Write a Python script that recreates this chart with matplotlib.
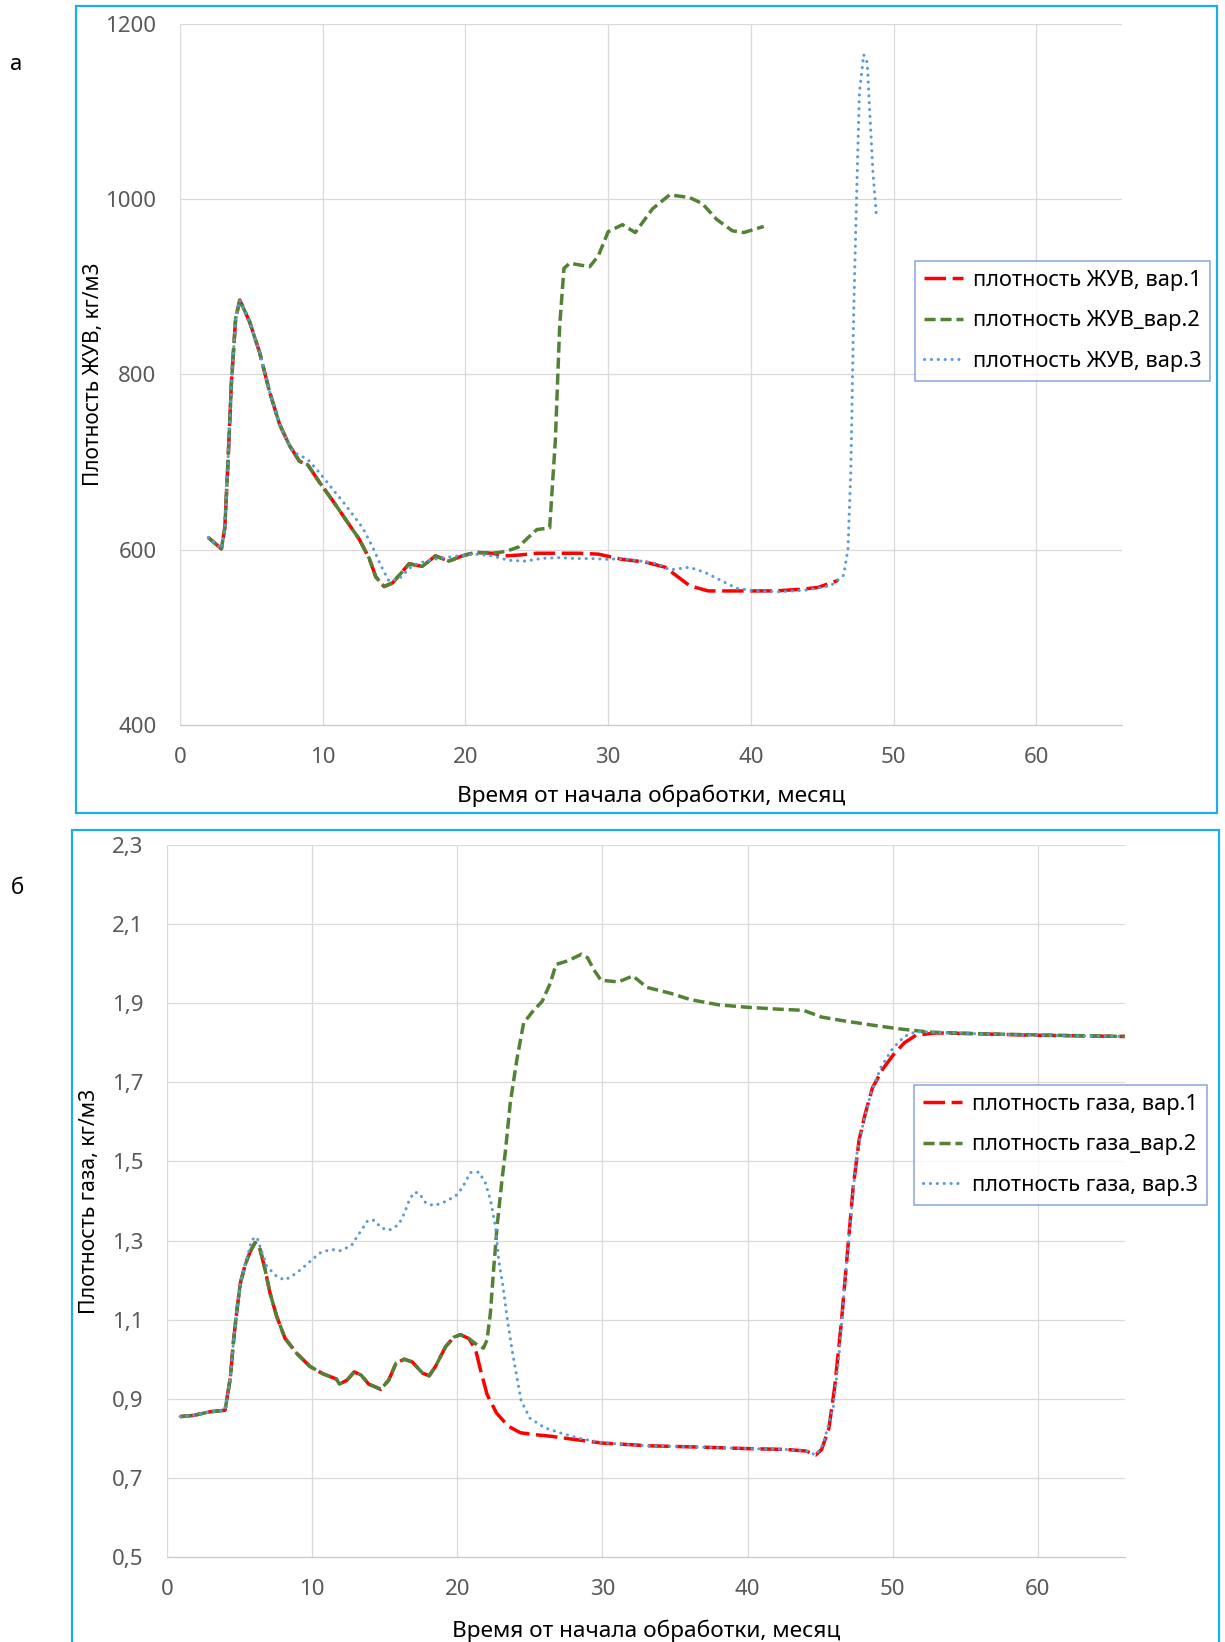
import matplotlib
matplotlib.use("Agg")
import matplotlib.pyplot as plt
from matplotlib.patches import Rectangle
from matplotlib.ticker import FuncFormatter

plt.rcParams['font.family'] = ['Noto Sans', 'DejaVu Sans']

# ---- а: плотность ЖУВ ----
zhuv_x1 = [1.98, 2.9, 3.14, 3.37, 3.6, 3.9, 4.19, 4.88, 5.58, 6.28, 6.98, 7.67, 8.37, 8.95, 9.77,
           10.7, 11.63, 12.56, 13.26, 13.72, 14.3, 14.88, 15.47, 16.05, 16.98, 17.9, 18.84, 19.77,
           20.7, 21.86, 22.8, 23.8, 25.0, 26.5, 28.0, 29.3, 31.0, 32.6, 34.0, 35.7, 37.0, 39.2,
           41.7, 43.6, 44.7, 46.1]
zhuv_y1 = [614, 601, 625, 703, 790, 864, 885, 860, 825, 780, 743, 719, 701, 697, 677,
           656, 634, 612, 590, 569, 558, 562, 573, 584, 581, 593, 587, 593,
           597, 596, 593, 594, 596, 596, 596, 595, 589, 586, 580, 559, 553, 553,
           553, 555, 557, 565]

zhuv_x2 = [1.98, 2.9, 3.14, 3.37, 3.6, 3.9, 4.19, 4.88, 5.58, 6.28, 6.98, 7.67, 8.37, 8.95, 9.77,
           10.7, 11.63, 12.56, 13.26, 13.72, 14.3, 14.88, 15.47, 16.05, 16.98, 17.9, 18.84, 19.77,
           20.7, 21.86, 22.8, 23.7, 24.4, 25.0, 25.9, 26.3, 26.6, 26.9, 27.3, 28.7, 29.3, 30.0,
           31.0, 31.9, 33.1, 34.3, 35.7, 36.6, 37.6, 38.7, 39.5, 40.9]
zhuv_y2 = [614, 601, 625, 703, 790, 864, 885, 860, 825, 780, 743, 719, 701, 697, 677,
           656, 634, 612, 590, 569, 558, 562, 573, 584, 581, 593, 587, 593,
           597, 596, 598, 603, 614, 623, 625, 725, 855, 921, 927, 923, 935, 963,
           971, 962, 989, 1005, 1002, 995, 977, 964, 962, 969]

zhuv_x3 = [1.98, 2.9, 3.14, 3.37, 3.6, 3.9, 4.19, 4.88, 5.58, 6.28, 6.98, 7.67, 7.9, 8.95, 9.77,
           10.7, 11.6, 12.8, 13.5, 14.07, 14.65, 15.35, 16.3, 17.2, 18.1, 19.5, 20.7, 21.9, 23.0,
           24.2, 25.3, 26.5, 27.7, 28.8, 30.0, 31.0, 32.3, 33.5, 34.3, 35.7, 36.8, 37.9, 39.0,
           40.3, 42.0, 43.9, 45.6, 46.5, 46.8, 47.0, 47.2, 47.4, 47.6, 47.9, 48.15, 48.3, 48.55,
           48.8]
zhuv_y3 = [614, 601, 625, 703, 790, 864, 885, 860, 825, 780, 743, 719, 712, 703, 688,
           669, 651, 625, 603, 582, 564, 567, 582, 587, 590, 593, 595, 593, 588,
           587, 590, 591, 590, 590, 589, 590, 587, 584, 577, 580, 574, 565, 556,
           553, 552, 554, 559, 571, 601, 690, 870, 1001, 1121, 1165, 1156, 1108, 1031,
           980]

# ---- б: плотность газа ----
gas_x1 = [0.9, 1.84, 2.93, 4.0, 4.36, 4.59, 4.82, 5.05, 5.39, 5.73, 6.07, 6.42, 6.76, 7.1, 7.56,
          8.13, 8.93, 9.84, 10.75, 11.67, 11.88, 12.4, 12.9, 13.37, 13.9, 14.73, 15.27, 15.78,
          16.35, 16.9, 17.6, 18.06, 18.5, 19.2, 19.77, 20.23, 20.8, 21.26, 21.6, 22.05, 22.7,
          23.5, 24.35, 25.44, 26.5, 27.9, 30.0, 31.4, 33.3, 36.6, 40.0, 42.6, 44.0, 44.7, 45.1,
          45.6, 46.0, 46.45, 46.86, 47.27, 47.68, 48.1, 48.6, 49.3, 50.05, 50.8, 51.6, 53.0,
          55.7, 59.8, 66.0]
gas_y1 = [0.855, 0.858, 0.867, 0.871, 0.952, 1.049, 1.125, 1.192, 1.239, 1.272, 1.295, 1.277,
          1.226, 1.167, 1.108, 1.053, 1.015, 0.982, 0.963, 0.95, 0.937, 0.947, 0.968, 0.96,
          0.937, 0.924, 0.947, 0.99, 1.0, 0.993, 0.965, 0.958, 0.982, 1.032, 1.056, 1.062,
          1.052, 1.024, 0.973, 0.911, 0.864, 0.831, 0.814, 0.809, 0.805, 0.798, 0.788, 0.785,
          0.781, 0.778, 0.774, 0.772, 0.768, 0.758, 0.772, 0.825, 0.93, 1.09, 1.262, 1.434,
          1.554, 1.62, 1.686, 1.733, 1.77, 1.8, 1.819, 1.825, 1.823, 1.819, 1.816]

gas_x2 = [0.9, 1.84, 2.93, 4.0, 4.36, 4.59, 4.82, 5.05, 5.39, 5.73, 6.07, 6.42, 6.76, 7.1, 7.56,
          8.13, 8.93, 9.84, 10.75, 11.67, 11.88, 12.4, 12.9, 13.37, 13.9, 14.73, 15.27, 15.78,
          16.35, 16.9, 17.6, 18.06, 18.5, 19.2, 19.77, 20.23, 20.8, 21.37, 21.8, 22.05, 22.28,
          22.5, 22.74, 23.08, 23.3, 23.65, 24.1, 24.57, 25.17, 25.85, 26.4, 26.8, 27.6, 28.56,
          28.97, 29.4, 29.9, 31.1, 32.1, 33.06, 34.7, 36.07, 38.0, 39.9, 42.1, 43.85, 45.1,
          46.7, 48.9, 50.5, 52.5, 55.7, 59.8, 66.0]
gas_y2 = [0.855, 0.858, 0.867, 0.871, 0.952, 1.049, 1.125, 1.192, 1.239, 1.272, 1.295, 1.277,
          1.226, 1.167, 1.108, 1.053, 1.015, 0.982, 0.963, 0.95, 0.937, 0.947, 0.968, 0.96,
          0.937, 0.924, 0.947, 0.99, 1.0, 0.993, 0.965, 0.958, 0.982, 1.032, 1.056, 1.062,
          1.052, 1.036, 1.028, 1.049, 1.117, 1.226, 1.336, 1.454, 1.521, 1.648, 1.757, 1.85,
          1.878, 1.905, 1.95, 1.998, 2.007, 2.024, 2.015, 1.985, 1.958, 1.954, 1.969, 1.94,
          1.925, 1.909, 1.896, 1.89, 1.885, 1.882, 1.865, 1.855, 1.843, 1.835, 1.827, 1.823,
          1.82, 1.816]

gas_x3 = [0.9, 1.84, 2.93, 4.0, 4.36, 4.59, 4.82, 5.05, 5.39, 5.84, 6.19, 6.87, 7.56, 8.13, 8.93,
          9.73, 10.5, 11.3, 11.9, 12.7, 13.26, 13.84, 14.3, 14.75, 15.3, 15.96, 16.35, 16.7,
          17.03, 17.37, 17.83, 18.4, 19.2, 19.89, 20.34, 20.9, 21.5, 21.94, 22.28, 22.63, 22.85,
          23.15, 23.42, 23.77, 24.1, 24.4, 25.0, 26.0, 27.07, 28.4, 30.0, 31.4, 33.3, 36.6,
          40.0, 42.6, 44.0, 44.7, 45.2, 45.9, 46.3, 46.7, 47.1, 47.5, 47.95, 48.5, 49.2, 50.0,
          50.8, 51.6, 53.0, 55.7, 59.8, 66.0]
gas_y3 = [0.855, 0.858, 0.867, 0.871, 0.952, 1.049, 1.125, 1.192, 1.239, 1.302, 1.309, 1.235,
          1.209, 1.2, 1.218, 1.243, 1.268, 1.278, 1.274, 1.287, 1.319, 1.351, 1.351, 1.332,
          1.326, 1.34, 1.369, 1.403, 1.422, 1.42, 1.395, 1.388, 1.399, 1.413, 1.433, 1.472,
          1.473, 1.445, 1.403, 1.336, 1.251, 1.184, 1.108, 1.024, 0.956, 0.895, 0.851, 0.827,
          0.814, 0.8, 0.789, 0.785, 0.781, 0.778, 0.774, 0.772, 0.768, 0.758, 0.785, 0.878,
          1.01, 1.196, 1.355, 1.514, 1.594, 1.673, 1.739, 1.786, 1.816, 1.828, 1.827, 1.823,
          1.819, 1.816]

zhuv_labels = ['плотность ЖУВ, вар.1', 'плотность ЖУВ_вар.2', 'плотность ЖУВ, вар.3']
gas_labels = ['плотность газа, вар.1', 'плотность газа_вар.2', 'плотность газа, вар.3']
x_ticks = [0, 10, 20, 30, 40, 50, 60]
zhuv_yticks = [400, 600, 800, 1000, 1200]
gas_yticks = [0.5, 0.7, 0.9, 1.1, 1.3, 1.5, 1.7, 1.9, 2.1, 2.3]

W, H = 1225, 1642
fig = plt.figure(figsize=(W / 100, H / 100), dpi=100)


def px_axes(x0, y0, x1, y1):
    return fig.add_axes([x0 / W, 1 - y1 / H, (x1 - x0) / W, (y1 - y0) / H])


def frame(x0, y0, x1, y1):
    fig.add_artist(Rectangle((x0 / W, 1 - y1 / H), (x1 - x0) / W, (y1 - y0) / H,
                             transform=fig.transFigure, fill=False,
                             edgecolor='#1CAEE8', linewidth=1.6))


def style_axes(ax):
    ax.grid(True, color='#D9D9D9', linewidth=0.9)
    ax.set_axisbelow(True)
    for s in ['top', 'right', 'left']:
        ax.spines[s].set_visible(False)
    ax.spines['bottom'].set_color('#C6C6C6')
    ax.tick_params(length=0, labelsize=16, labelcolor='#595959')
    ax.tick_params(axis='y', pad=17)
    ax.tick_params(axis='x', pad=16)
    ax.set_xlim(0, 66)
    ax.set_xticks(x_ticks)


def draw_lines(ax, xs, ys, labels):
    ax.plot(xs[0], ys[0], color='#FF0000', lw=2.5, ls=(0, (6.2, 1.9)), label=labels[0])
    ax.plot(xs[1], ys[1], color='#538135', lw=2.5, ls=(0, (3.2, 1.4)), label=labels[1])
    ax.plot(xs[2], ys[2], color='#5B9BD5', lw=2.2, ls=(0, (0.05, 2.2)),
            dash_capstyle='round', label=labels[2])


def legend(ax, x0, y0):
    leg = ax.legend(loc='upper left', bbox_to_anchor=(x0 / W, 1 - y0 / H),
                    bbox_transform=fig.transFigure, fontsize=15.7, frameon=True,
                    fancybox=False, borderaxespad=0, handlelength=1.8,
                    handletextpad=0.45, labelspacing=0.9, borderpad=0.4)
    leg.get_frame().set_edgecolor('#6B8ED6')
    leg.get_frame().set_linewidth(1.1)


# рамки
frame(76, 6, 1217, 813)
frame(72, 830, 1219, 1700)

# а
ax1 = px_axes(180, 24, 1122, 725)
style_axes(ax1)
draw_lines(ax1, [zhuv_x1, zhuv_x2, zhuv_x3], [zhuv_y1, zhuv_y2, zhuv_y3], zhuv_labels)
ax1.set_ylim(400, 1200)
ax1.set_yticks(zhuv_yticks)
ax1.set_ylabel('Плотность ЖУВ, кг/м3', fontsize=15, va='center')
ax1.yaxis.set_label_coords(-0.092, 0.5)
ax1.set_xlabel('Время от начала обработки, месяц', fontsize=16.3, va='center')
ax1.xaxis.set_label_coords(0.5, -0.101)
legend(ax1, 915, 261)

# б
ax2 = px_axes(167, 845, 1125, 1557)
style_axes(ax2)
draw_lines(ax2, [gas_x1, gas_x2, gas_x3], [gas_y1, gas_y2, gas_y3], gas_labels)
ax2.set_ylim(0.5, 2.3)
ax2.set_yticks(gas_yticks)
ax2.yaxis.set_major_formatter(FuncFormatter(lambda v, p: f'{v:.1f}'.replace('.', ',')))
ax2.set_ylabel('Плотность газа, кг/м3', fontsize=15.3, va='center')
ax2.yaxis.set_label_coords(-0.081, 0.5)
ax2.set_xlabel('Время от начала обработки, месяц', fontsize=16.3, va='center')
ax2.xaxis.set_label_coords(0.5, -0.103)
legend(ax2, 914, 1085)

fig.text(16 / W, 1 - 64 / H, 'а', fontsize=16, ha='center', va='center')
fig.text(17 / W, 1 - 888 / H, 'б', fontsize=16, ha='center', va='center')

fig.savefig('out.png', dpi=100)
